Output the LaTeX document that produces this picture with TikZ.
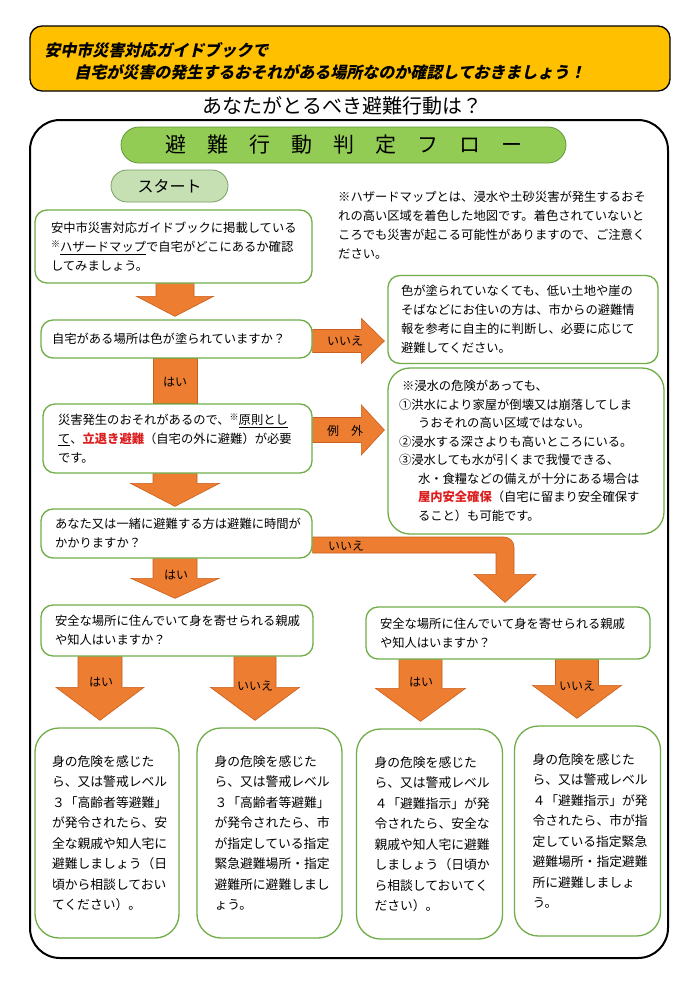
\documentclass[tikz,border=0pt]{standalone}
\usepackage{fontspec}
\usetikzlibrary{calc}
\newfontfamily\jp{Noto Sans CJK JP}
\definecolor{gborder}{RGB}{112,173,71}
\definecolor{arrowfill}{RGB}{237,125,49}
\definecolor{arrowline}{RGB}{200,95,30}
\definecolor{hdrfill}{RGB}{255,192,0}
\definecolor{titlefill}{RGB}{146,204,84}
\definecolor{titleline}{RGB}{96,150,60}
\definecolor{startfill}{RGB}{198,224,180}
\definecolor{startline}{RGB}{120,160,100}
\definecolor{redtxt}{RGB}{220,30,30}
\pgfdeclarelayer{bg}
\pgfsetlayers{bg,main}
\newcommand{\komemark}{\raisebox{3.5pt}{\fontsize{9}{9}\selectfont ※}}
% down block arrow: #1 src, #2 dst, #3 cx, #4 half shaft, #5 half head, #6 head length, #7 gap
\newcommand{\dnarrow}[7]{%
 \path[blockarrow] let \p1=(#1.south), \p2=([yshift=#7pt]#2.north) in
  ({(#3-#4)*1pt},\y1) -- ({(#3+#4)*1pt},\y1) -- ({(#3+#4)*1pt},{\y2+#6pt}) -- ({(#3+#5)*1pt},{\y2+#6pt})
  -- ({#3*1pt},\y2) -- ({(#3-#5)*1pt},{\y2+#6pt}) -- ({(#3-#4)*1pt},{\y2+#6pt}) -- cycle;}
% right block arrow: #1 src, #2 dst, #3 cy, #4 half shaft, #5 half head, #6 head length, #7 gap
\newcommand{\rtarrow}[7]{%
 \path[blockarrow] let \p1=(#1.east), \p2=([xshift=-#7pt]#2.west) in
  (\x1,{-(#3-#4)*1pt}) -- ({\x2-#6pt},{-(#3-#4)*1pt}) -- ({\x2-#6pt},{-(#3-#5)*1pt}) -- (\x2,{-#3*1pt})
  -- ({\x2-#6pt},{-(#3+#5)*1pt}) -- ({\x2-#6pt},{-(#3+#4)*1pt}) -- (\x1,{-(#3+#4)*1pt}) -- cycle;}
\begin{document}
\begin{tikzpicture}[x=1pt,y=-1pt,
  gbox/.style={draw=gborder, line width=1.3pt, fill=white, rounded corners=12pt, align=left,
    inner ysep=0pt, font=\jp\fontsize{12.3}{19}\selectfont},
  bbox/.style={gbox, rounded corners=24pt, inner xsep=17pt, text width=110pt,
    minimum width=144pt, minimum height=210pt, font=\jp\fontsize{12.8}{20.5}\selectfont},
  blockarrow/.style={fill=arrowfill, draw=arrowline, line width=0.6pt},
  albl/.style={font=\jp\fontsize{12}{12}\selectfont, inner sep=0pt},
  plain/.style={inner sep=0pt, align=left}]
\useasboundingbox (0,0) rectangle (694,982);
\begin{pgfonlayer}{bg}
\fill[white] (0,0) rectangle (694,982);
\end{pgfonlayer}

% header
\node[draw=black, line width=1.3pt, fill=hdrfill, rounded corners=12pt, minimum width=640pt,
  minimum height=65pt, inner sep=0pt] (hdr) at (350,58.5) {};
\node[anchor=west, inner sep=0pt, align=left, xslant=0.22,
  font=\jp\bfseries\fontsize{16}{22}\selectfont] (hdrtxt) at (43,61)
  {安中市災害対応ガイドブックで\\\hspace*{35pt}自宅が災害の発生するおそれがある場所なのか確認しておきましょう！};
\node[font=\jp\fontsize{20}{20}\selectfont, inner sep=0pt] (sub) at (342,106) {あなたがとるべき避難行動は？};

% outer frame
\node[draw=black, line width=2pt, rounded corners=30pt, minimum width=638pt, minimum height=838pt,
  inner sep=0pt] (frame) at (349,539) {};

% title pill
\node[draw=titleline, line width=0.8pt, fill=titlefill, rounded corners=18pt, minimum width=445pt,
  minimum height=36pt, font=\jp\fontsize{21}{21}\selectfont, inner sep=0pt] (title) at (343.5,145)
  {避\hspace{21pt}難\hspace{21pt}行\hspace{21pt}動\hspace{21pt}判\hspace{21pt}定\hspace{21pt}フ\hspace{21pt}ロ\hspace{21pt}ー};

% start pill
\node[draw=startline, line width=0.8pt, fill=startfill, rounded corners=16pt, minimum width=117pt,
  minimum height=32pt, font=\jp\fontsize{16}{16}\selectfont, inner sep=0pt] (startp) at (169.5,186) {スタート};

% boxes
\node[gbox, minimum width=277pt, minimum height=73pt, inner xsep=16pt, text width=245pt] (start) at (173.5,246.5)
  {安中市災害対応ガイドブックに掲載している\\\komemark\underline{ハザードマップ}で自宅がどこにあるか確認\\してみましょう。};

\node[plain, anchor=north west, font=\jp\fontsize{12.3}{19}\selectfont] (note) at (338,191)
  {※ハザードマップとは、浸水や土砂災害が発生するおそ\\れの高い区域を着色した地図です。着色されていないと\\ころでも災害が起こる可能性がありますので、ご注意く\\ださい。};

\node[gbox, minimum width=271pt, minimum height=38pt, inner xsep=11pt, text width=249pt] (q1) at (176.5,339)
  {自宅がある場所は色が塗られていますか？};

\node[gbox, minimum width=270pt, minimum height=88pt, inner xsep=13pt, text width=244pt] (rb1) at (523,319.5)
  {色が塗られていなくても、低い土地や崖の\\そばなどにお住いの方は、市からの避難情\\報を参考に自主的に判断し、必要に応じて\\避難してください。};

\node[gbox, minimum width=269pt, minimum height=69pt, inner xsep=15pt, text width=239pt] (box2) at (177.5,438.5)
  {災害発生のおそれがあるので、\komemark\underline{原則とし}\\\underline{て}、{\color{redtxt}\bfseries 立退き避難}（自宅の外に避難）が必要\\です。};

\node[gbox, rounded corners=22pt, minimum width=276pt, minimum height=166pt, inner xsep=11pt, text width=254pt,
  font=\jp\fontsize{12.3}{18.5}\selectfont] (rb2) at (526,451)
  {\hspace*{3pt}※浸水の危険があっても、\\①洪水により家屋が倒壊又は崩落してしま\\\hspace*{19pt}うおそれの高い区域ではない。\\②浸水する深さよりも高いところにいる。\\③浸水しても水が引くまで我慢できる、\\\hspace*{19pt}水・食糧などの備えが十分にある場合は\\\hspace*{19pt}{\color{redtxt}\bfseries 屋内安全確保}（自宅に留まり安全確保す\\\hspace*{19pt}ること）も可能です。};

\node[gbox, minimum width=271pt, minimum height=49pt, inner xsep=14pt, text width=243pt] (q3) at (176.5,533.5)
  {あなた又は一緒に避難する方は避難に時間が\\かかりますか？};

\node[gbox, minimum width=272pt, minimum height=51pt, inner xsep=14pt, text width=244pt] (q4l) at (177,630.5)
  {安全な場所に住んでいて身を寄せられる親戚\\や知人はいますか？};

\node[gbox, minimum width=284pt, minimum height=52pt, inner xsep=14pt, text width=256pt] (q4r) at (508,633)
  {安全な場所に住んでいて身を寄せられる親戚\\や知人はいますか？};

\node[bbox] (b1) at (107,833)
  {身の危険を感じた\\ら、又は警戒レベル\\３「高齢者等避難」\\が発令されたら、安\\全な親戚や知人宅に\\避難しましょう（日\\頃から相談しておい\\てください）。};
\node[bbox, minimum width=145pt] (b2) at (269.5,833)
  {身の危険を感じた\\ら、又は警戒レベル\\３「高齢者等避難」\\が発令されたら、市\\が指定している指定\\緊急避難場所・指定\\避難所に避難しまし\\ょう。};
\node[bbox, minimum width=145pt, inner xsep=18pt] (b3) at (429.5,834)
  {身の危険を感じた\\ら、又は警戒レベル\\４「避難指示」が発\\令されたら、安全な\\親戚や知人宅に避難\\しましょう（日頃か\\ら相談しておいてく\\ださい）。};
\node[bbox, minimum width=145pt, inner xsep=18pt] (b4) at (587.5,831)
  {身の危険を感じた\\ら、又は警戒レベル\\４「避難指示」が発\\令されたら、市が指\\定している指定緊急\\避難場所・指定避難\\所に避難しましょ\\う。};

% arrows
\begin{pgfonlayer}{bg}
\dnarrow{start}{q1}{175}{19}{38.5}{20}{3}
\path[blockarrow] let \p1=(q1.south), \p2=(box2.north) in ({153pt},\y1) rectangle ({197pt},\y2);
\dnarrow{box2}{q3}{175}{22}{44.5}{23}{2}
\dnarrow{q3}{q4l}{175}{22}{44}{20}{6}
\rtarrow{q1}{rb1}{341}{11.5}{22.5}{23}{3}
\rtarrow{box2}{rb2}{430}{12.5}{25}{23}{3}
\path[blockarrow] let \p1=(q3.east), \p2=([yshift=4pt]q4r.north) in
  (\x1,-537pt) -- (504pt,-537pt) arc[start angle=90, end angle=0, radius=10pt] -- (514pt,{\y2+28pt})
  -- (536pt,{\y2+28pt}) -- (505pt,\y2) -- (474pt,{\y2+28pt}) -- (496pt,{\y2+28pt}) -- (496pt,-553pt)
  -- (\x1,-553pt) -- cycle;
\dnarrow{q4l}{b1}{100}{22}{44}{33}{7}
\dnarrow{q4l}{b2}{255}{21}{44.5}{33}{7}
\dnarrow{q4r}{b3}{420.5}{21.5}{45}{33}{7}
\dnarrow{q4r}{b4}{577}{21.5}{44.5}{33}{7}
\end{pgfonlayer}

% arrow labels
\node[albl] (l1) at (175,382) {はい};
\node[albl] (l2) at (345,341) {いいえ};
\node[albl] (l3) at (345,431) {例　外};
\node[albl] (l4) at (176,575) {はい};
\node[albl] (l5) at (346,546) {いいえ};
\node[albl] (l6) at (101,682) {はい};
\node[albl] (l7) at (255,686) {いいえ};
\node[albl] (l8) at (421,682) {はい};
\node[albl] (l9) at (577,686) {いいえ};
\end{tikzpicture}
\end{document}
